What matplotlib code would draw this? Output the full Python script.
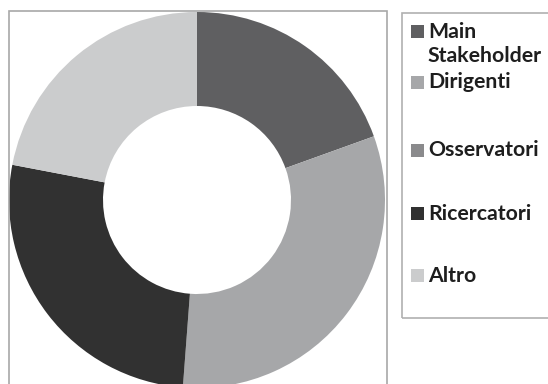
import matplotlib.pyplot as plt
from matplotlib.patches import Rectangle

labels = ["Main\nStakeholder", "Dirigenti", "Osservatori", "Ricercatori", "Altro"]
shares = [19.5, 31.7, 0.0, 26.8, 22.0]
colors = ["#5f5f61", "#a6a7a9", "#8a8a8c", "#313131", "#cbcccd"]

W, H = 548, 384
fig = plt.figure(figsize=(W / 100, H / 100), dpi=100)
ax = fig.add_axes([0, 0, 1, 1])

# donut, in pixel-like coords (y up)
cx, cy, r = 197, H - 200, 188
wedges, _ = ax.pie(shares, colors=colors, startangle=90, counterclock=False,
                   center=(cx, cy), radius=r, frame=True,
                   wedgeprops=dict(width=r * 0.5, linewidth=0))
for w in wedges:
	w.set_clip_on(True)

ax.set_xlim(0, W)
ax.set_ylim(0, H)
ax.set_aspect('auto')
ax.axis('off')

# chart frame (bottom edge runs off the image)
ax.add_patch(Rectangle((9, -5), 378, H - 11 + 5, fill=False,
                       edgecolor="#a8a8a8", linewidth=1.2))

# legend frame
ax.add_patch(Rectangle((402, H - 318), 160, 305, fill=False,
                       edgecolor="#b0b0b0", linewidth=1.2))

# legend entries
entry_y = [31, 82, 150, 213, 275]
for w, lab, y in zip(wedges, labels, entry_y):
	yy = H - y
	ax.add_patch(Rectangle((411, yy - 6.5), 13, 13,
	                       facecolor=w.get_facecolor(), edgecolor="none"))
	ax.text(428, yy + 9.5, lab, ha="left", va="top", fontsize=15.3,
	        fontweight="bold", family="Lato", color="#1e1e1e",
	        linespacing=1.3)

fig.savefig("out.png", dpi=100)
